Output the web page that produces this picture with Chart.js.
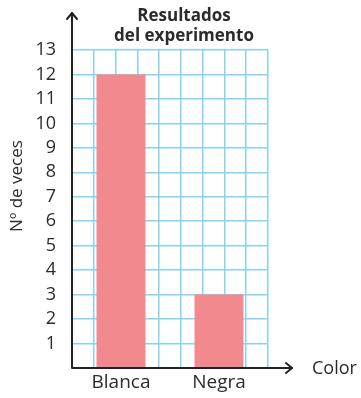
<!DOCTYPE html>
<html><head><meta charset="utf-8">
<script src="https://cdn.jsdelivr.net/npm/chart.js@4/dist/chart.umd.min.js"></script>
<style>html,body{margin:0;padding:0;background:#fff}#wrap{width:361px;height:398px}</style>
</head><body><div id="wrap"><canvas id="c" width="361" height="398"></canvas></div>
<script>
const categories = ["Blanca", "Negra"];
const counts = [12, 3];
const yTicks = [1,2,3,4,5,6,7,8,9,10,11,12,13];
const gridColumns = [0,1,2,3,4,5,6,7,8];
const titleLines = ["Resultados", "del experimento"];
const yTitle = "Nº de veces";
const xTitle = "Color";

const FONT = "'Open Sans', sans-serif";
const TEXT = "#2b2b2b";
const GRID = "#86d4f3";

const overlay = {
  id: 'overlay',
  afterDraw(chart) {
    const ctx = chart.ctx, a = chart.chartArea;
    ctx.save();
    ctx.strokeStyle = "#222"; ctx.lineWidth = 2; ctx.lineCap = 'round'; ctx.lineJoin='round';
    ctx.beginPath();
    ctx.moveTo(a.left, a.bottom); ctx.lineTo(a.left, 13);
    ctx.moveTo(a.left, a.bottom); ctx.lineTo(a.right + 24, a.bottom);
    ctx.stroke();
    ctx.beginPath();
    ctx.moveTo(a.left - 5, 19); ctx.lineTo(a.left, 13); ctx.lineTo(a.left + 5, 19);
    ctx.moveTo(a.right + 18, a.bottom - 5); ctx.lineTo(a.right + 24, a.bottom); ctx.lineTo(a.right + 18, a.bottom + 5);
    ctx.stroke();
    ctx.fillStyle = TEXT; ctx.textAlign = 'center'; ctx.textBaseline = 'middle';
    ctx.font = "bold 17px " + FONT;
    ctx.fillText(titleLines[0], 184, 16);
    ctx.fillText(titleLines[1], 184, 36);
    ctx.font = "18px " + FONT; ctx.textAlign = 'left';
    ctx.fillText(xTitle, a.right + 44, a.bottom + 1);
    ctx.font = "17px " + FONT;
    ctx.translate(17, 186); ctx.rotate(-Math.PI/2); ctx.textAlign = 'center';
    ctx.fillText(yTitle, 0, 0);
    ctx.restore();
  }
};

new Chart(document.getElementById('c'), {
  type: 'bar',
  data: { labels: categories, datasets: [{ data: counts, backgroundColor: '#f2898e', borderWidth: 0, barPercentage: 0.5, categoryPercentage: 1 }] },
  options: {
    responsive: false, animation: false,
    layout: { padding: { top: 50, right: 93, left: 0, bottom: 0 } },
    plugins: { legend: { display: false }, tooltip: { enabled: false } },
    scales: {
      x: {
        type: 'category', offset: true,
        grid: { display: false, drawTicks: false }, border: { display: false },
        ticks: { color: TEXT, font: { family: FONT, size: 19 }, padding: 3, maxRotation: 0 },
        afterFit(s) { s.height = 30; }
      },
      xg: {
        type: 'linear', position: 'bottom', min: 0, max: 8, display: true,
        grid: { color: GRID, lineWidth: 1.5, drawTicks: false }, border: { display: false },
        afterBuildTicks(s) { s.ticks = gridColumns.map(v => ({ value: v })); },
        ticks: { display: false, autoSkip: false },
        afterFit(s) { s.height = 0; }
      },
      y: {
        min: 0, max: 13,
        grid: { color: GRID, lineWidth: 1.5, drawTicks: false }, border: { display: false },
        afterBuildTicks(s) { s.ticks = [0].concat(yTicks).map(v => ({ value: v })); },
        ticks: { color: TEXT, font: { family: FONT, size: 18 }, padding: 16, autoSkip: false, callback: v => v === 0 ? '' : String(v) },
        afterFit(s) { s.width = 72; }
      }
    }
  },
  plugins: [overlay]
});
</script></body></html>
